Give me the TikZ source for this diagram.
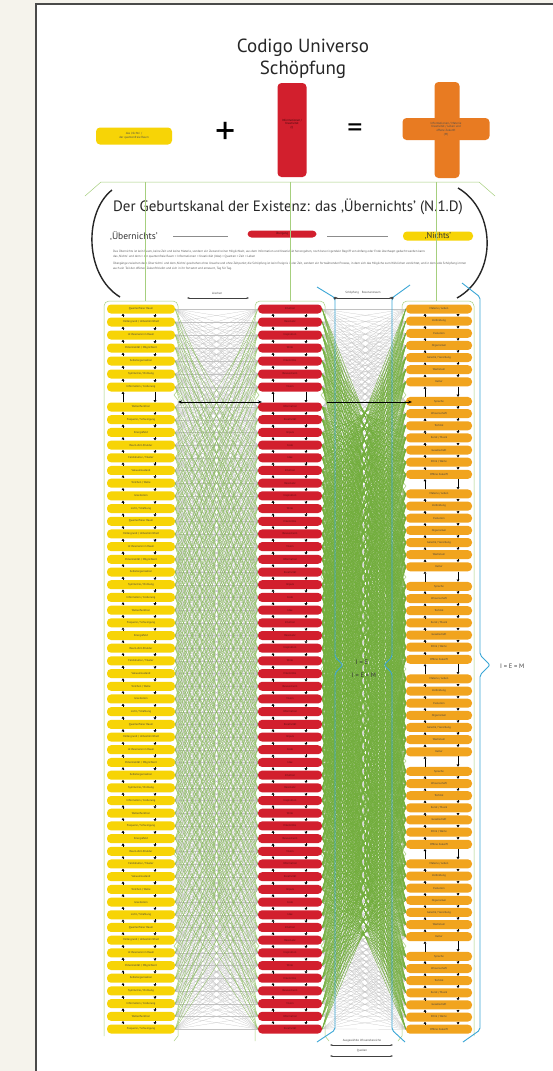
\documentclass[tikz,border=0pt]{standalone}
\usepackage{fontspec}
\usepackage{graphicx}
\setmainfont{PT Sans}
\usetikzlibrary{arrows.meta}
\definecolor{bgbeige}{HTML}{F5F3EC}
\definecolor{ybar}{HTML}{F7D406}
\definecolor{rbar}{HTML}{D21F2D}
\definecolor{obar}{HTML}{F1A41E}
\definecolor{ocross}{HTML}{E87B22}
\definecolor{lgreen}{HTML}{72AE3C}
\definecolor{bgreen}{HTML}{A6CF7E}
\definecolor{lgray}{HTML}{C2C2C2}
\definecolor{cblue}{HTML}{3AA6D6}
\definecolor{framegray}{HTML}{4A4A4A}
\newcommand\ylabx[1]{\ifcase#1 Quantenfreier Raum\or Hintergrund / Unbestimmtheit\or Ur-Resonanz im Raum\or Potenzialität / Möglichkeit\or Selbstorganisation\or Symmetrie / Ordnung\or Information / Codierung\or Wellenfunktion\or Frequenz / Schwingung\or Energiefeld\or Raum-Zeit-Struktur\or Feldstruktur / Muster\or Vakuumzustand\or Teilchen / Welle\or Gravitation\or Licht / Strahlung\fi}
\newcommand\rlabx[1]{\ifcase#1 Information\or Kreativität\or Impuls\or Code\or Idee\or Intuition\or Resonanz\or Inspiration\or Wille\or Erkenntnis\or Bewusstsein\or Vision\fi}
\newcommand\olabx[1]{\ifcase#1 Materie / Leben\or Zellbildung\or Evolution\or Organismen\or Genetik / Vererbung\or Wachstum\or Kultur\or Sprache\or Wissenschaft\or Technik\or Kunst / Musik\or Gesellschaft\or Ethik / Werte\or Offene Zukunft\fi}
\begin{document}
\begin{tikzpicture}[x=1pt,y=-1pt,
  declare function={yl(\k)=(\k<7)*(309+13*\k)+(\k>6)*(407+12.694*(\k-7)); yo(\k)=309+12.14*\k+7.5*floor(\k/7);},
  barbase/.style={rounded corners=4pt,minimum height=9pt,inner sep=0pt,font=\fontsize{2.8}{3}\selectfont},
  yb/.style={barbase,fill=ybar,minimum width=68pt,text=black!75},
  rb/.style={barbase,fill=rbar,minimum width=64pt,text=black!55!rbar},
  ob/.style={barbase,fill=obar,minimum width=66pt,text=black!75},
  mini/.style={line width=0.45pt,-{Triangle[length=2.2pt,width=2.8pt]}},
  grayline/.style={draw=lgray,line width=0.2pt},
  greenline/.style={draw=lgreen,line width=0.4pt},
  thingreen/.style={draw=lgreen!85,line width=0.3pt},
  border/.style={draw=bgreen,line width=0.5pt},
  blueline/.style={draw=cblue,line width=0.9pt,rounded corners=2pt},
  bigarrow/.style={line width=0.8pt,{Stealth[length=4pt]}-{Stealth[length=4pt]}},
  rarrow/.style={line width=0.8pt,-{Stealth[length=4pt]}},
  smallarrow/.style={line width=0.5pt,black!75,{Stealth[length=2.5pt]}-{Stealth[length=2.5pt]}},
  tiny/.style={font=\fontsize{3}{3.6}\selectfont,text=black!70,inner sep=0pt,align=center},
  paren/.style={line width=1.4pt,black!85},
  blob/.style={rounded corners=4pt,inner sep=0pt},
]
\useasboundingbox (0,0) rectangle (553,1071);
\fill[bgbeige] (0,0) rectangle (553,1071);
\fill[white] (36,4) rectangle (553,1071);
\draw[framegray,line width=1.2pt] (36,1071) -- (36,4) -- (553,4);

% title
\node[font=\fontsize{19}{22}\selectfont,text=black!85] (t1) at (303,48) {Codigo Universo};
\node[font=\fontsize{19}{22}\selectfont,text=black!85] (t2) at (303,70) {Schöpfung};

% equation row
\node[blob,fill=ybar,minimum width=76pt,minimum height=17pt] (eqY) at (134,136) {};
\node[tiny] (eqYt) at (134,136) {das ‚Nichts’ /\\der quantenfreie Raum};
\node[font=\fontsize{40}{40}\selectfont,inner sep=0pt] (plus) at (226,133) {+};
\node[blob,fill=rbar,minimum width=29pt,minimum height=94pt] (eqR) at (292,130) {};
\node[tiny,text=black!70!rbar] (eqRt) at (292,124) {Informationen /\\Kreativität\\(I)};
\node[font=\fontsize{30}{30}\selectfont,inner sep=0pt] (equal) at (355,131) {=};
\node[blob,fill=ocross,minimum width=25pt,minimum height=96pt] (eqOv) at (447,130) {};
\node[blob,fill=ocross,minimum width=87pt,minimum height=22pt] (eqOh) at (446,129) {};
\node[tiny] (eqOt) at (446,129) {Informationen / Materie\\Kreativität / Leben und\\offene Zukunft\\(M)};

% header frame
\draw[border] (85,196) -- (101,182) -- (479,182) -- (495,196);
\draw[paren] (112,190) .. controls (84,212) and (84,275) .. (120,297);
\draw[paren] (458,188) .. controls (496,210) and (498,275) .. (457,298);
\node[font=\fontsize{15}{17}\selectfont,text=black!85] (htitle) at (288,207) {Der Geburtskanal der Existenz: das ‚Übernichts’ (N.1.D)};
\node[font=\fontsize{9.5}{10}\selectfont,text=black!80,anchor=west,inner sep=0pt] (hub) at (110,236) {‚Übernichts’};
\draw[black!45,line width=0.6pt] (173,236) -- (228,236);
\node[blob,fill=rbar,minimum width=69pt,minimum height=7pt] (hred) at (282,234) {};
\node[tiny,text=black!60!rbar] (hredt) at (282,234) {Übergang};
\draw[black!45,line width=0.6pt] (327,236) -- (388,236);
\node[blob,fill=ybar,minimum width=70pt,minimum height=9pt] (hyel) at (438,236) {};
\node[font=\fontsize{8.5}{9}\selectfont,text=black!80,inner sep=0pt] (hyelt) at (438,236) {‚Nichts’};
\node[anchor=north west,inner sep=0pt,text=black!65] (hpar) at (113,250) {\parbox{353pt}{\fontsize{3.1}{4.4}\selectfont
Das Übernichts ist kein Raum, keine Zeit und keine Materie, sondern ein Zustand reiner Möglichkeit, aus dem Information und Kreativität hervorgehen, noch bevor irgendein Begriff von Anfang oder Ende überhaupt gedacht werden kann.\\
das ‚Nichts’ und dem = der quantenfreie Raum = Informationen = Kreativität (Idee) = Quanten = Zeit = Leben\par\vspace{3pt}
Übergänge zwischen dem ‚Übernichts’ und dem ‚Nichts’ geschehen ohne Ursache und ohne Zeitpunkt; die Schöpfung ist kein Ereignis in der Zeit, sondern ein fortwährender Prozess, in dem sich das Mögliche zum Wirklichen verdichtet, und in dem jede Schöpfung immer auch ein Teil der offenen Zukunft bleibt und sich in ihr fortsetzt und erneuert, Tag für Tag.}};

% column outlines
\draw[border] (145,182) -- (145,301);
\draw[border] (290,182) -- (290,301);
\draw[border] (436,182) -- (436,301);
\draw[border] (104,1036) [rounded corners=5pt] -- (104,301) -- (178,301) -- (178,330) [sharp corners]
  foreach \y in {395,486,577,669,761,854,946} { -- (178,{\y-5}) -- (174,\y) -- (178,{\y+5}) } -- (178,1036) -- (174,1041);
\draw[border] (255,1041) -- (255,1036) foreach \y in {946,854,761,669,577,486,395} { -- (255,{\y+5}) -- (259,\y) -- (255,{\y-5}) } [rounded corners=5pt] -- (255,330) -- (255,301) -- (325,301) -- (325,330) [sharp corners]
  foreach \y in {395,486,577,669,761,854,946} { -- (325,{\y-5}) -- (321,\y) -- (325,{\y+5}) } -- (325,1036) -- (329,1041);
\draw[border] (398,1041) -- (402,1036) foreach \y in {946,854,761,669,577,486,395} { -- (402,{\y+5}) -- (406,\y) -- (402,{\y-5}) } [rounded corners=5pt] -- (402,330) -- (402,301) -- (474,301) -- (474,1036);

% bars
\foreach \i in {0,...,56}{
  \pgfmathtruncatemacro\m{mod(\i,16)}
  \pgfmathtruncatemacro\n{mod(\i+5,12)}
  \node[yb] (Y\i) at (141,{yl(\i)}) {\ylabx{\m}};
  \node[rb] (R\i) at (290,{yl(\i)}) {\rlabx{\n}};
}
\foreach \i in {0,...,55}{
  \pgfmathtruncatemacro\m{mod(\i,14)}
  \node[ob] (O\i) at (439,{yo(\i)}) {\olabx{\m}};
}

% small arrows between bars
\foreach \i in {0,...,55}{
  \pgfmathtruncatemacro\j{\i+1}
  \draw[mini] ([xshift=-18pt]Y\j.north) -- ([xshift=-18pt]Y\i.south);
  \draw[mini] ([xshift=14pt]Y\i.south) -- ([xshift=14pt]Y\j.north);
  \draw[mini] ([xshift=-17pt]R\j.north) -- ([xshift=-17pt]R\i.south);
  \draw[mini] ([xshift=16pt]R\i.south) -- ([xshift=16pt]R\j.north);
}
\foreach \i in {0,...,54}{
  \pgfmathtruncatemacro\j{\i+1}
  \draw[mini] ([xshift=-14pt]O\j.north) -- ([xshift=-14pt]O\i.south);
  \draw[mini] ([xshift=19pt]O\i.south) -- ([xshift=19pt]O\j.north);
}

% connectors: yellow -> red
\foreach \i in {0,...,56}{
  \foreach \d in {-7,...,7}{
    \pgfmathtruncatemacro\j{\i+\d}
    \ifnum\j>-1\relax\ifnum\j<57\relax
      \draw[grayline] (Y\i.east) -- (R\j.west);
    \fi\fi
  }
}
\foreach \i in {0,...,56}{
  \foreach \d in {-20,-14,-10,10,14,20}{
    \pgfmathtruncatemacro\j{\i+\d}
    \pgfmathtruncatemacro\s{\i+\j}
    \ifnum\j>-1\relax\ifnum\j<57\relax\ifnum\s>10\relax\ifnum\s<104\relax
      \draw[thingreen] (Y\i.east) -- (R\j.west);
    \fi\fi\fi\fi
  }
}
% connectors: red -> orange
\foreach \i in {0,...,56}{
  \foreach \d in {-7,...,7}{
    \pgfmathtruncatemacro\j{\i+\d}
    \ifnum\j>-1\relax\ifnum\j<56\relax
      \draw[grayline] (R\i.east) -- (O\j.west);
    \fi\fi
  }
}
\foreach \i in {0,...,56}{
  \foreach \d in {-24,-22,...,-2,2,4,...,24}{
    \pgfmathtruncatemacro\j{\i+\d}
    \pgfmathtruncatemacro\s{\i+\j}
    \ifnum\j>-1\relax\ifnum\j<56\relax\ifnum\s>15\relax\ifnum\s<97\relax
      \draw[greenline] (R\i.east) -- (O\j.west);
    \fi\fi\fi\fi
  }
}

% blue tube and brace
\draw[blueline] (317,287) -- (335,298) -- (335,657) -- (343,665) -- (335,673) -- (335,1030) -- (317,1042);
\draw[blueline] (410,285) -- (392,298) -- (392,657) -- (384,665) -- (392,673) -- (392,1030) -- (405,1042);
\draw[blueline] (462,283) -- (480,297) -- (480,655) -- (490,665) -- (480,675) -- (480,1030) -- (463,1042);

% labels and arrows
\coordinate (la1) at (187,298); \coordinate (la2) at (249,298);
\draw[smallarrow] (la1) -- (la2);
\node[tiny] (lab1) at (217,293) {Löschen};
\coordinate (ma1) at (335,298); \coordinate (ma2) at (392,298);
\draw[smallarrow] (ma1) -- (ma2);
\fill[black!75] (ma1) circle (1.5pt) (ma2) circle (1.5pt);
\node[tiny] (lab2) at (363,293) {Schöpfung\quad Resonanzraum};
\coordinate (ba1) at (178,402); \coordinate (ba2) at (262,402);
\draw[bigarrow] (ba1) -- (ba2);
\coordinate (bb1) at (327,402); \coordinate (bb2) at (412,402);
\draw[rarrow] (bb1) -- (bb2);
\node[font=\fontsize{6.5}{7}\selectfont,text=black!80,inner sep=1pt] (iem1) at (362,662) {I = E};
\node[font=\fontsize{6.5}{7}\selectfont,text=black!80,inner sep=1pt] (iem2) at (364,675) {I = E = M};
\node[font=\fontsize{6.5}{7}\selectfont,text=black!75,anchor=west,inner sep=0pt] (iem3) at (500,666) {I = E = M};
\coordinate (qa1) at (330,1045); \coordinate (qa2) at (393,1045);
\draw[smallarrow] (qa1) -- (qa2);
\node[tiny] (lab3) at (362,1041) {Ausgewählte Wissensbereiche};
\coordinate (qb1) at (330,1056); \coordinate (qb2) at (393,1056);
\draw[smallarrow] (qb1) -- (qb2);
\node[tiny] (lab4) at (362,1051) {Quellen};
\end{tikzpicture}
\end{document}
